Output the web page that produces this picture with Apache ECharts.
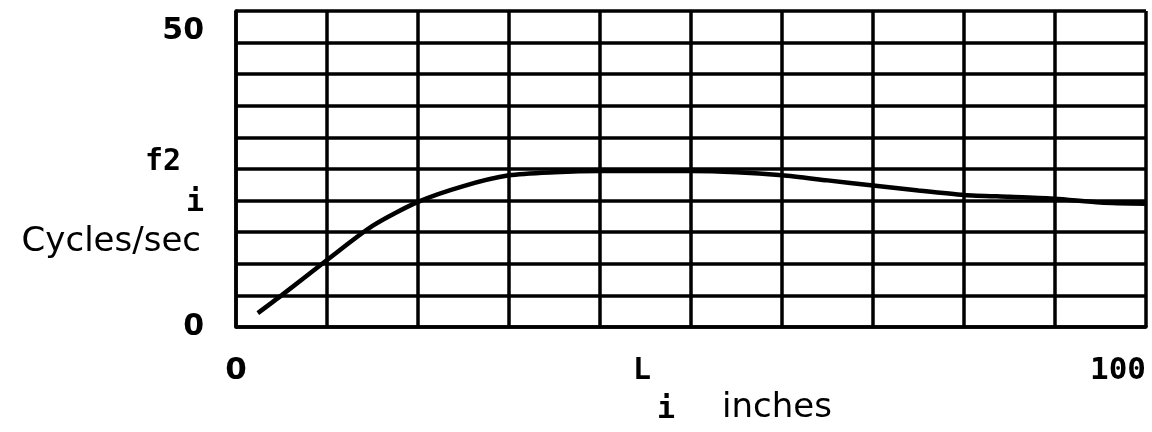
<!DOCTYPE html>
<html>
<head>
<meta charset="utf-8">
<script src="https://cdn.jsdelivr.net/npm/echarts@6/dist/echarts.min.js"></script>
<style>html,body{margin:0;padding:0;background:#fff;}#c{width:1152px;height:432px;}</style>
</head>
<body>
<div id="c"></div>
<script>
// Curve: L (inches) vs f2 (cycles/sec)
const xValues = [2.4, 5, 10, 15, 20, 25, 30, 35, 40, 45, 50, 55, 60, 65, 70, 75, 80, 85, 90, 95, 100];
const yValues = [2.2, 5.0, 10.6, 16.0, 19.8, 22.3, 24.0, 24.5, 24.7, 24.7, 24.7, 24.5, 24.0, 23.2, 22.4, 21.6, 20.9, 20.6, 20.3, 19.7, 19.5];
const xTickValues = [0, 100];
const xTickLabels = ['0', '100'];
const yTickValues = [0, 50];
const yTickLabels = ['0', '50'];
const yNameLines = ['f2', 'i', 'Cycles/sec'];
const xNameLines = ['L', 'i', 'inches'];

const chart = echarts.init(document.getElementById('c'), null, {renderer: 'canvas'});
const pts = xValues.map((x, i) => [x, yValues[i]]);
const gridLine = {show: true, lineStyle: {color: '#000', width: 3.5}};
const mono = 'DejaVu Sans Mono';
const sans = 'DejaVu Sans';

chart.setOption({
  animation: false,
  backgroundColor: '#fff',
  grid: {left: 236, right: 6, top: 11, bottom: 105, containLabel: false},
  xAxis: {
    type: 'value', min: 0, max: 100, interval: 10,
    axisLine: {show: true, lineStyle: {color: '#000', width: 3.5}},
    axisTick: {show: false},
    splitLine: gridLine,
    axisLabel: {
      show: true, margin: 28, color: '#000', fontSize: 31, fontWeight: 'bold', fontFamily: sans,
      alignMaxLabel: 'right',
      formatter: v => {
        const i = xTickValues.indexOf(v);
        if (i < 0) return '';
        return v === 100 ? '{m|' + xTickLabels[i] + '}' : xTickLabels[i];
      },
      rich: {m: {fontFamily: mono, fontSize: 31, fontWeight: 'bold', color: '#000'}}
    }
  },
  yAxis: {
    type: 'value', min: 0, max: 50, interval: 5,
    axisLine: {show: true, lineStyle: {color: '#000', width: 3.5}},
    axisTick: {show: false},
    splitLine: gridLine,
    axisLabel: {
      show: true, margin: 32, color: '#000', fontSize: 30, fontWeight: 'bold', fontFamily: sans,
      formatter: v => {
        const i = yTickValues.indexOf(v);
        if (i < 0) return '';
        return v === 50 ? '{t|' + yTickLabels[i] + '}' : yTickLabels[i];
      },
      rich: {t: {fontFamily: sans, fontSize: 30, fontWeight: 'bold', color: '#000', padding: [40, 0, 0, 0]}}
    }
  },
  series: [{
    type: 'line', data: pts, smooth: 0.25, symbol: 'none',
    lineStyle: {color: '#000', width: 4.5}
  }],
  graphic: [
    {type: 'text', right: 1152 - 181, top: 147, style: {text: yNameLines[0], font: 'bold 30px "' + mono + '"', fill: '#000'}},
    {type: 'text', right: 1152 - 204, top: 188, style: {text: yNameLines[1], font: 'bold 30px "' + mono + '"', fill: '#000'}},
    {type: 'text', right: 1152 - 201, top: 225, style: {text: yNameLines[2], font: '34px "DejaVu Sans"', fill: '#000'}},
    {type: 'text', left: 633, top: 356, style: {text: xNameLines[0], font: 'bold 30px "' + mono + '"', fill: '#000'}},
    {type: 'text', left: 657, top: 395, style: {text: xNameLines[1], font: 'bold 30px "' + mono + '"', fill: '#000'}},
    {type: 'text', left: 722, top: 391, style: {text: xNameLines[2], font: '34px "DejaVu Sans"', fill: '#000'}}
  ]
});
</script>
</body>
</html>
